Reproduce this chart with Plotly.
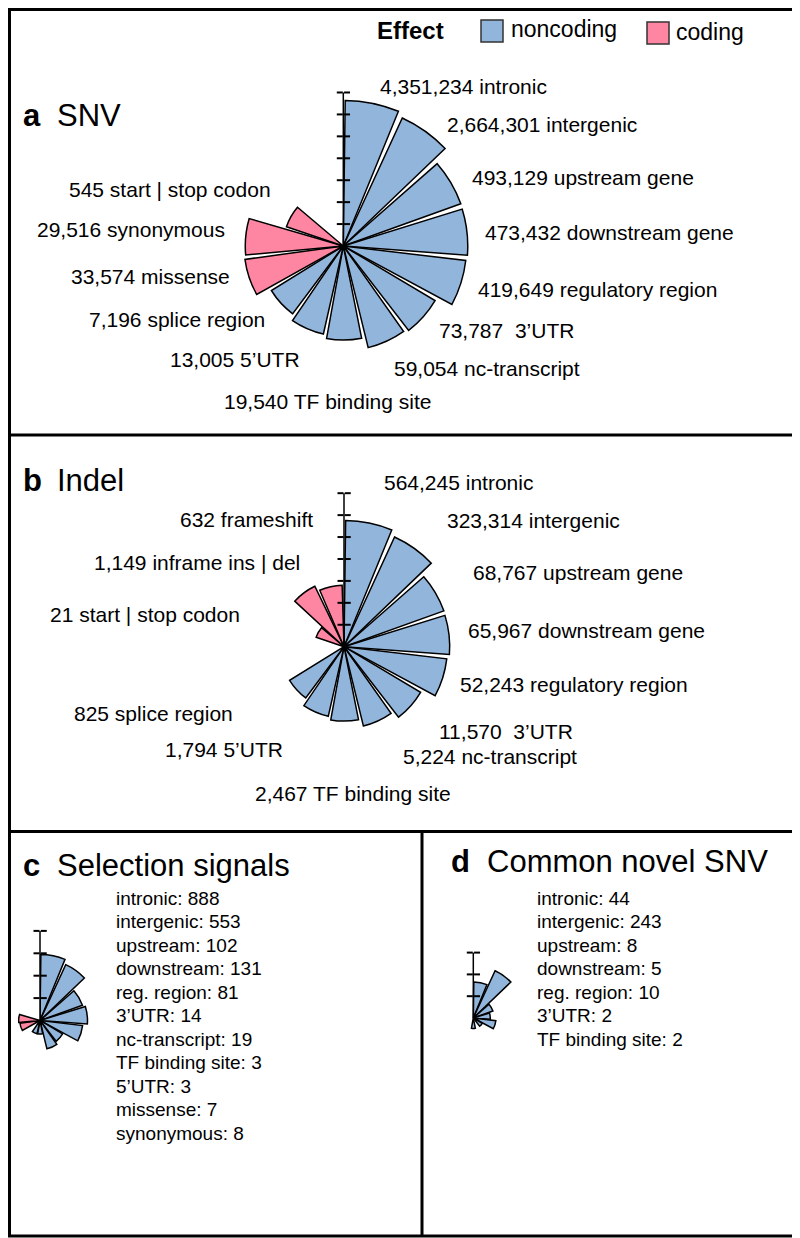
import math
import plotly.graph_objects as go

# The page body has an 8px margin, so the figure is drawn 8px in and sized to fit.
PAGE_W, PAGE_H = 800, 1238
OFF = 8
W, H = PAGE_W - OFF, PAGE_H - OFF

# ---------------- data ----------------
categories = ["intronic", "intergenic", "upstream gene", "downstream gene",
              "regulatory region", "3’UTR", "nc-transcript", "TF binding site",
              "5’UTR", "splice region", "missense", "synonymous",
              "start | stop codon", "inframe ins | del", "frameshift"]
effects = ["noncoding"] * 10 + ["coding"] * 5

snv_values = [4351234, 2664301, 493129, 473432, 419649, 73787, 59054, 19540,
              13005, 7196, 33574, 29516, 545, None, None]
indel_values = [564245, 323314, 68767, 65967, 52243, 11570, 5224, 2467,
                1794, 825, None, None, 21, 1149, 632]
selection_values = [888, 553, 102, 131, 81, 14, 19, 3, 3, None, 7, 8,
                    None, None, None]
common_values = [44, 243, 8, 5, 10, 2, None, 2, None, None, None, None,
                 None, None, None]

ab_label_names = ["intronic", "intergenic", "upstream gene", "downstream gene",
                  "regulatory region", "\u00a03’UTR", "nc-transcript",
                  "TF binding site", "5’UTR", "splice region", "missense",
                  "synonymous", "start | stop codon", "inframe ins | del",
                  "frameshift"]
cd_label_names = ["intronic", "intergenic", "upstream", "downstream",
                  "reg. region", "3’UTR", "nc-transcript", "TF binding site",
                  "5’UTR", "splice region", "missense", "synonymous",
                  "start | stop codon", "inframe ins | del", "frameshift"]

# ---------------- style ----------------
COLORS = {"noncoding": "#92B5DB", "coding": "#FF86A2"}
FONT = "Liberation Sans, Arial, Helvetica, sans-serif"
LABEL_SIZE = 21
LIST_SIZE = 19
TITLE_SIZE = 31
SLOT = 360 / len(categories)
BAR_WIDTH = 21.5 / SLOT
ROTATION = 90 - SLOT / 2 + 0.5


def X(px):
    return min(max((px - OFF) / W, 0.0), 1.0)


def Y(py):
    return min(max(1 - (py - OFF) / H, 0.0), 1.0)


fig = go.Figure()
layout_polars = {}
counter = [0]


def sector_bbox(sector):
    s0, s1 = sector
    xs, ys = [0.0], [0.0]
    steps = 720
    for k in range(steps + 1):
        a = math.radians(s0 + (s1 - s0) * k / steps)
        xs.append(math.cos(a))
        ys.append(math.sin(a))
    return min(xs), min(ys), max(xs), max(ys)


def domain_for(cx, cy, R, sector):
    x0, y0, x1, y1 = sector_bbox(sector)
    return dict(x=[X(cx + R * x0), X(cx + R * x1)],
                y=[Y(cy - R * y0), Y(cy - R * y1)])


def new_polar_name():
    counter[0] += 1
    return "polar" if counter[0] == 1 else f"polar{counter[0]}"


def add_rose(values, keep, cx, cy, ppd, decades, sector=(0, 360), axis=True):
    R = ppd * decades
    dom = domain_for(cx, cy, R, sector)
    name = new_polar_name()
    r = [v if (i in keep and v is not None) else None for i, v in enumerate(values)]
    fig.add_trace(go.Barpolar(
        r=r, theta=categories, base=1, width=BAR_WIDTH,
        marker=dict(color=[COLORS[e] for e in effects],
                    line=dict(color="black", width=1.5)),
        subplot=name, showlegend=False,
        hovertemplate="%{theta}: %{r:,}<extra></extra>"))
    tickvals = [10 ** k for k in range(1, decades + 1)]
    layout_polars[name] = dict(
        domain=dom, sector=list(sector), bgcolor="rgba(0,0,0,0)",
        angularaxis=dict(type="category", categoryorder="array",
                         categoryarray=categories, period=len(categories),
                         rotation=ROTATION, direction="clockwise",
                         visible=False),
        radialaxis=dict(type="log", range=[0, decades], angle=90,
                        tickmode="array", tickvals=tickvals,
                        ticks="outside" if axis else "", ticklen=6,
                        tickwidth=1.5, tickcolor="black",
                        showline=axis, linewidth=1.5, linecolor="black",
                        showticklabels=False, showgrid=False))
    if axis:
        # second set of ticks on the other side of the axis line
        name2 = new_polar_name()
        fig.add_trace(go.Scatterpolar(r=[None], theta=[None], subplot=name2,
                                      showlegend=False, hoverinfo="skip"))
        layout_polars[name2] = dict(
            domain=dom, sector=list(sector), bgcolor="rgba(0,0,0,0)",
            angularaxis=dict(visible=False),
            radialaxis=dict(type="log", range=[0, decades], angle=90,
                            tickmode="array", tickvals=tickvals,
                            ticks="inside", ticklen=6, tickwidth=1.5,
                            tickcolor="black", showline=False,
                            showticklabels=False, showgrid=False))


all_idx = set(range(len(categories)))
# panel a
add_rose(snv_values, all_idx, 343.3, 246.0, 21.93, 7)
# panel b
add_rose(indel_values, all_idx, 344.0, 646.7, 21.93, 7)
# panel c (right-hand sector carries the axis; short left bars in a small full rose)
add_rose(selection_values, set(range(0, 7)), 40.0, 1020.5, 22.4, 4, sector=(-80, 90))
add_rose(selection_values, set(range(7, 15)), 40.0, 1020.5, 22.4, 1, axis=False)
# panel d
add_rose(common_values, all_idx, 473.3, 1018.0, 21.8, 3)

# ---------------- text ----------------
annotations = []


def text(px, py, s, size, anchor="left", bold=False):
    annotations.append(dict(
        x=X(px), y=Y(py), xref="paper", yref="paper",
        text=f"<b>{s}</b>" if bold else s,
        showarrow=False, xanchor=anchor, yanchor="middle",
        font=dict(family=FONT, size=size, color="black")))


a_label_pos = {0: (378, 87, "left"), 1: (445, 124, "left"), 2: (470, 178, "left"),
               3: (483, 232, "left"), 4: (476, 289, "left"), 5: (437, 331, "left"),
               6: (392, 369, "left"), 7: (433, 401, "right"), 8: (302, 359, "right"),
               9: (267, 319, "right"), 10: (232, 276, "right"), 11: (227, 229, "right"),
               12: (273, 189, "right")}
b_label_pos = {0: (382, 482, "left"), 1: (445, 520, "left"), 2: (471, 572, "left"),
               3: (466, 630, "left"), 4: (458, 684, "left"), 5: (437, 731, "left"),
               6: (401, 757, "left"), 7: (253, 793, "left"), 8: (163, 749, "left"),
               9: (72, 713, "left"), 12: (48, 615, "left"), 13: (302, 562, "right"),
               14: (315, 519, "right")}

for values, pos in ((snv_values, a_label_pos), (indel_values, b_label_pos)):
    for i, (px, py, anc) in pos.items():
        text(px, py, f"{values[i]:,} {ab_label_names[i]}", LABEL_SIZE, anc)

for values, x0 in ((selection_values, 114), (common_values, 535)):
    row = 0
    for i, v in enumerate(values):
        if v is None:
            continue
        text(x0, 898 + 23.5 * row, f"{cd_label_names[i]}: {v:,}", LIST_SIZE)
        row += 1

# panel titles
text(21, 116, "a", TITLE_SIZE, bold=True)
text(55, 116, "SNV", TITLE_SIZE)
text(21, 481, "b", TITLE_SIZE, bold=True)
text(55, 481, "Indel", TITLE_SIZE)
text(21, 866, "c", TITLE_SIZE, bold=True)
text(55, 866, "Selection signals", TITLE_SIZE)
text(449, 861, "d", TITLE_SIZE, bold=True)
text(485, 861, "Common novel SNV", TITLE_SIZE)

# legend
text(410, 30, "Effect", 24, anchor="center", bold=True)
text(509, 29, "noncoding", 23)
text(674, 32, "coding", 23)

shapes = []


def rect(x0, y0, x1, y1, fill, color, width):
    shapes.append(dict(type="rect", xref="paper", yref="paper",
                       x0=X(x0), x1=X(x1), y0=Y(y1), y1=Y(y0),
                       fillcolor=fill, line=dict(color=color, width=width)))


def line(x0, y0, x1, y1, width=3):
    shapes.append(dict(type="line", xref="paper", yref="paper",
                       x0=X(x0), x1=X(x1), y0=Y(y0), y1=Y(y1),
                       line=dict(color="black", width=width)))


rect(481, 20, 503, 42, COLORS["noncoding"], "#333333", 1.5)
rect(647, 22, 669, 44, COLORS["coding"], "#333333", 1.5)

# frame and panel dividers
rect(OFF + 1.5, OFF + 1.5, 795, 1236, "rgba(0,0,0,0)", "black", 3)
line(OFF, 435, 795, 435)
line(OFF, 831.5, 795, 831.5)
line(422, 831.5, 422, 1236)

fig.update_layout(
    width=W, height=H, margin=dict(l=0, r=0, t=0, b=0),
    paper_bgcolor="white", plot_bgcolor="white",
    font=dict(family=FONT, color="black"),
    showlegend=False, annotations=annotations, shapes=shapes,
    **layout_polars)

fig.write_html("out.html")
